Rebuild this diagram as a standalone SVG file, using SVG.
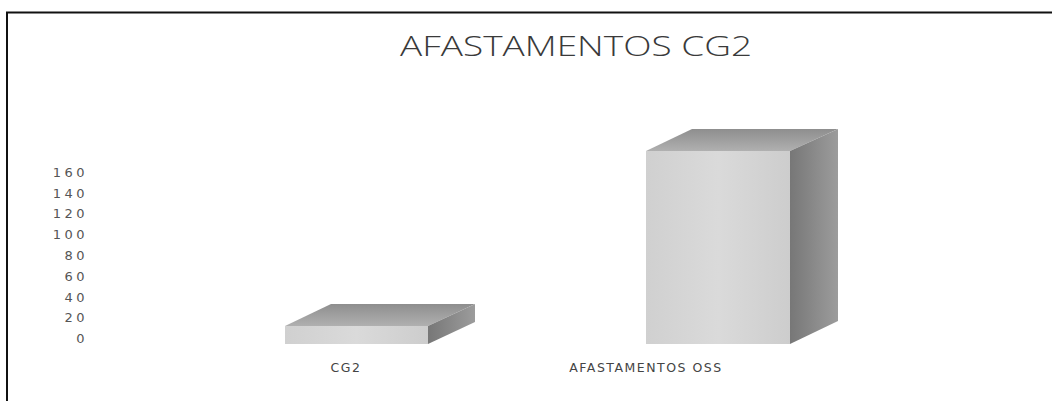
<svg xmlns="http://www.w3.org/2000/svg" width="1052" height="401" viewBox="0 0 1052 401">
<defs>
<style>
.frame{fill:none;stroke:#111;stroke-width:2}
.title{font-family:"Open Sans","Liberation Sans",sans-serif;font-weight:300;font-size:28px;fill:#3a3a3a}
.ylab{font-family:"DejaVu Sans","Liberation Sans",sans-serif;font-size:13px;fill:#555;text-anchor:end;letter-spacing:3.5px}
.xlab{font-family:"DejaVu Sans","Liberation Sans",sans-serif;font-size:12.5px;fill:#444;text-anchor:middle;letter-spacing:1.5px}
.front{fill:url(#gFront)}
.top{fill:url(#gTop)}
.side{fill:url(#gSide)}
</style>
<linearGradient id="gFront" x1="0" y1="0" x2="1" y2="0">
<stop offset="0" stop-color="#d0d0d0"/><stop offset="0.5" stop-color="#dadada"/><stop offset="1" stop-color="#cdcdcd"/>
</linearGradient>
<linearGradient id="gTop" x1="0" y1="1" x2="0" y2="0">
<stop offset="0" stop-color="#b0b0b0"/><stop offset="1" stop-color="#8e8e8e"/>
</linearGradient>
<linearGradient id="gSide" x1="0" y1="0" x2="1" y2="0">
<stop offset="0" stop-color="#777"/><stop offset="1" stop-color="#9c9c9c"/>
</linearGradient>
</defs>
<rect width="1052" height="401" fill="#fff"/>
<path class="frame" d="M7,401 V12.5 H1052"/>
<text class="title" x="576" y="56" text-anchor="middle" textLength="352" lengthAdjust="spacingAndGlyphs">AFASTAMENTOS CG2</text>
<g id="yaxis">
<text class="ylab" x="88" y="177">160</text>
<text class="ylab" x="88" y="198">140</text>
<text class="ylab" x="88" y="218">120</text>
<text class="ylab" x="88" y="239">100</text>
<text class="ylab" x="88" y="260">80</text>
<text class="ylab" x="88" y="281">60</text>
<text class="ylab" x="88" y="302">40</text>
<text class="ylab" x="88" y="322">20</text>
<text class="ylab" x="88" y="343">0</text>
</g>
<g id="bar-cg2">
<polygon class="top" points="285,326 331,304 475,304 428,326"/>
<polygon class="side" points="428,326 475,304 475,322 428,344"/>
<rect class="front" x="285" y="326" width="143" height="18"/>
</g>
<g id="bar-oss">
<polygon class="top" points="646,151 692,129 838,129 790,151"/>
<polygon class="side" points="790,151 838,129 838,321 790,344"/>
<rect class="front" x="646" y="151" width="144" height="193"/>
</g>
<g id="xaxis">
<text class="xlab" x="346" y="372">CG2</text>
<text class="xlab" x="646" y="372">AFASTAMENTOS OSS</text>
</g>
</svg>
